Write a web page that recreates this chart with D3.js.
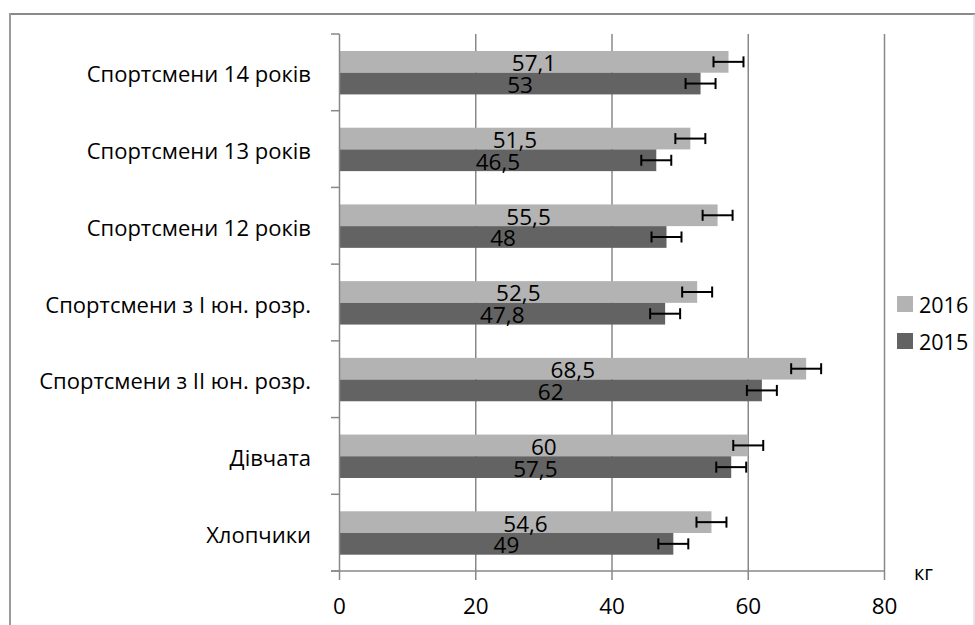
<!DOCTYPE html>
<html><head><meta charset="utf-8">
<script src="https://cdn.jsdelivr.net/npm/d3@7"></script>
<style>body{margin:0;background:#fff}svg{display:block}text{font-family:"Open Sans",sans-serif;fill:#000}</style>
</head><body>
<svg id="c" width="975" height="625"></svg>
<script>
const categories = ["Спортсмени 14 років","Спортсмени 13 років","Спортсмени 12 років","Спортсмени з I юн. розр.","Спортсмени з II юн. розр.","Дівчата","Хлопчики"];
const values2016 = [57.1, 51.5, 55.5, 52.5, 68.5, 60, 54.6];
const values2015 = [53, 46.5, 48, 47.8, 62, 57.5, 49];
const labels2016 = ["57,1","51,5","55,5","52,5","68,5","60","54,6"];
const labels2015 = ["53","46,5","48","47,8","62","57,5","49"];
const errors2016 = [2.2, 2.2, 2.2, 2.2, 2.2, 2.2, 2.2];
const errors2015 = [2.2, 2.2, 2.2, 2.2, 2.2, 2.2, 2.2];
const seriesNames = ["2016","2015"];
const xTicks = [0, 20, 40, 60, 80];
const unitLabel = "кг";

const colors = {"2016":"#b3b3b3","2015":"#636363"};
const svg = d3.select("#c");

// outer frame
svg.append("line").attr("x1",10).attr("x2",975).attr("y1",14).attr("y2",14).attr("stroke","#8a8a8a").attr("stroke-width",2);
svg.append("line").attr("x1",10).attr("x2",10).attr("y1",13).attr("y2",625).attr("stroke","#9a9a9a").attr("stroke-width",2);
svg.append("line").attr("x1",974).attr("x2",974).attr("y1",14).attr("y2",625).attr("stroke","#d0d0d0").attr("stroke-width",1);

const x = d3.scaleLinear().domain([0,80]).range([339.5,884.5]);
const y = d3.scaleBand().domain(categories).range([34,571]);
const inner = d3.scaleBand().domain(seriesNames).range([17, y.bandwidth()-16.3]);

// gridlines
svg.append("g").selectAll("line").data(xTicks.slice(1)).join("line")
  .attr("x1",d=>x(d)).attr("x2",d=>x(d)).attr("y1",34).attr("y2",571)
  .attr("stroke","#888").attr("stroke-width",1.5);

const rows = categories.map((c,i)=>({c,
  s:[{k:"2016",v:values2016[i],l:labels2016[i],e:errors2016[i]},{k:"2015",v:values2015[i],l:labels2015[i],e:errors2015[i]}]}));

const g = svg.append("g").selectAll("g").data(rows).join("g").attr("transform",d=>`translate(0,${y(d.c)})`);
g.selectAll("rect").data(d=>d.s).join("rect")
  .attr("x",x(0)).attr("y",d=>inner(d.k)).attr("width",d=>x(d.v)-x(0)).attr("height",inner.bandwidth())
  .attr("fill",d=>colors[d.k]);
g.selectAll("text.v").data(d=>d.s).join("text").attr("class","v")
  .attr("x",d=>(x(0)+x(d.v))/2).attr("y",d=>inner(d.k)+inner.bandwidth()/2+1)
  .attr("text-anchor","middle").attr("dominant-baseline","central")
  .style("font-size","22.5px").text(d=>d.l);
// error bars
const eb = g.selectAll("g.e").data(d=>d.s).join("g").attr("class","e")
  .attr("transform",d=>`translate(0,${inner(d.k)+inner.bandwidth()/2})`);
eb.append("line").attr("x1",d=>x(d.v-d.e)).attr("x2",d=>x(d.v+d.e)).attr("y1",0).attr("y2",0).attr("stroke","#000").attr("stroke-width",2);
eb.append("line").attr("x1",d=>x(d.v-d.e)).attr("x2",d=>x(d.v-d.e)).attr("y1",-5.5).attr("y2",5.5).attr("stroke","#000").attr("stroke-width",2);
eb.append("line").attr("x1",d=>x(d.v+d.e)).attr("x2",d=>x(d.v+d.e)).attr("y1",-5.5).attr("y2",5.5).attr("stroke","#000").attr("stroke-width",2);

// y axis
const ya = svg.append("g");
ya.append("line").attr("x1",x(0)).attr("x2",x(0)).attr("y1",34).attr("y2",571).attr("stroke","#888").attr("stroke-width",1.5);
const bounds = categories.map(c=>y(c)).concat([571]);
ya.selectAll("line.t").data(bounds).join("line").attr("class","t")
  .attr("x1",331).attr("x2",x(0)).attr("y1",d=>d).attr("y2",d=>d).attr("stroke","#888").attr("stroke-width",1.5);
ya.selectAll("text").data(categories).join("text")
  .attr("x",311).attr("y",d=>y(d)+y.bandwidth()/2+1).attr("text-anchor","end").attr("dominant-baseline","central")
  .style("font-size","22px").text(d=>d);

// x axis
const xa = svg.append("g");
xa.append("line").attr("x1",331).attr("x2",x(80)).attr("y1",571).attr("y2",571).attr("stroke","#888").attr("stroke-width",1.5);
xa.selectAll("line.t").data(xTicks).join("line").attr("class","t")
  .attr("x1",d=>x(d)).attr("x2",d=>x(d)).attr("y1",571).attr("y2",580).attr("stroke","#888").attr("stroke-width",1.5);
xa.selectAll("text").data(xTicks).join("text")
  .attr("x",d=>x(d)).attr("y",614).attr("text-anchor","middle").style("font-size","22.5px").text(d=>d);
svg.append("text").attr("x",914).attr("y",580).style("font-size","20px").text(unitLabel);

// legend
const lg = svg.append("g").selectAll("g").data(seriesNames).join("g")
  .attr("transform",(d,i)=>`translate(897,${296+i*37})`);
lg.append("rect").attr("width",16).attr("height",16).attr("fill",d=>colors[d]);
lg.append("text").attr("x",22).attr("y",8).attr("dominant-baseline","central").style("font-size","21.5px").text(d=>d);
</script>
</body></html>
